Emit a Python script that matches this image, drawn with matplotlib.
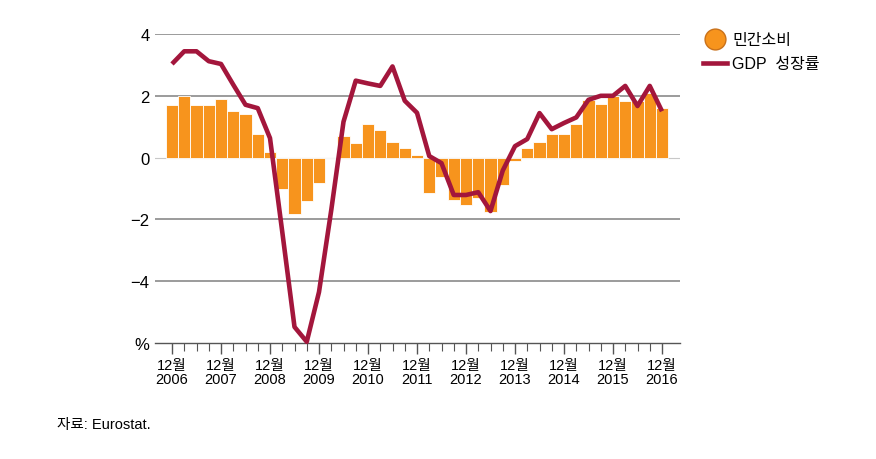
import matplotlib
matplotlib.use('Agg')
import matplotlib.pyplot as plt
import numpy as np
from matplotlib.lines import Line2D

plt.rcParams['font.family'] = ['Liberation Sans', 'Noto Sans CJK KR', 'DejaVu Sans']

# Quarterly data, Q4 2006 .. Q4 2016 (year-on-year %)
consumption = [1.71, 2.0, 1.71, 1.71, 1.89, 1.51, 1.41, 0.77, 0.17,
               -1.02, -1.81, -1.41, -0.82, 0.0, 0.7, 0.48, 1.08, 0.9,
               0.49, 0.3, 0.09, -1.14, -0.62, -1.37, -1.54, -1.3, -1.77,
               -0.88, -0.1, 0.3, 0.49, 0.77, 0.77, 1.08, 1.85, 1.72,
               2.0, 1.82, 1.82, 2.1, 1.6]
gdp = [3.03, 3.44, 3.44, 3.12, 3.03, 2.36, 1.71, 1.6, 0.63,
       -2.4, -5.48, -5.96, -4.35, -1.7, 1.16, 2.49, 2.4, 2.32,
       2.95, 1.84, 1.45, 0.05, -0.18, -1.21, -1.21, -1.12, -1.73,
       -0.42, 0.37, 0.6, 1.44, 0.92, 1.12, 1.3, 1.87, 2.0,
       2.0, 2.32, 1.67, 2.32, 1.5]
years = ['2006', '2007', '2008', '2009', '2010', '2011',
         '2012', '2013', '2014', '2015', '2016']
xtick_labels = ['12월\n' + y for y in years]
yticks = [-6, -4, -2, 0, 2, 4]
ytick_labels = ['%', '−4', '−2', '0', '2', '4']
legend_labels = ['민간소비', 'GDP  성장률']
source_text = '자료: Eurostat.'

bar_color = '#F7941D'
line_color = '#A3163C'

fig = plt.figure(figsize=(8.76, 4.6), dpi=100)
W, H = 876, 460
ax = fig.add_axes([155 / W, 1 - 344 / H, (680 - 155) / W, (344 - 35) / H])

x = np.arange(len(consumption))
for g in [4, 2, -2, -4]:
    ax.axhline(g, color='#8a8a8a', lw=1.2, zorder=1)
ax.axhline(0, color='#c8c8c8', lw=0.8, zorder=1)

ax.bar(x, consumption, width=1.0, color=bar_color, edgecolor='white',
       linewidth=0.6, zorder=2)
ax.plot(x, gdp, color=line_color, lw=3.3, zorder=3, solid_joinstyle='round',
        solid_capstyle='butt', clip_on=False)

ax.set_xlim((155 - 172) / 12.25, (680 - 172) / 12.25)
ax.set_ylim(-6, 4)

for s in ['top', 'right', 'left']:
    ax.spines[s].set_visible(False)
ax.spines['bottom'].set_color('#555555')
ax.spines['bottom'].set_linewidth(1.0)

ax.set_xticks(np.arange(0, len(consumption), 4))
ax.set_xticklabels(xtick_labels, fontsize=10.5, linespacing=0.95)
ax.set_xticks(x, minor=True)
ax.tick_params(axis='x', which='major', length=8, width=1, color='#555555', pad=3)
ax.tick_params(axis='x', which='minor', length=6, width=0.8, color='#555555')

ax.set_yticks(yticks)
ax.set_yticklabels(ytick_labels, fontsize=12)
ax.tick_params(axis='y', length=0, pad=4)

handles = [Line2D([], [], marker='o', linestyle='none', markerfacecolor=bar_color,
                  markeredgecolor='#C9711A', markersize=15),
           Line2D([], [], color=line_color, lw=3.3)]
fig.legend(handles, legend_labels, loc='upper left',
           bbox_to_anchor=(697 / W, 1 - 27 / H), frameon=False, fontsize=11.5,
           handlelength=1.5, handletextpad=0.3, labelspacing=0.55,
           borderaxespad=0)

fig.text(57 / W, 1 - 425 / H, source_text, fontsize=10.5, va='center')

fig.savefig('out.png', dpi=100)
